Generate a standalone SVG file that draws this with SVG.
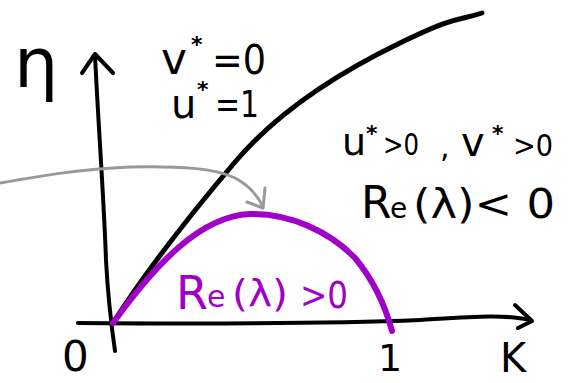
<svg xmlns="http://www.w3.org/2000/svg" width="577" height="383" viewBox="0 0 577 383">
<style>
.ink{fill:none;stroke:#000;stroke-width:4;stroke-linecap:round;stroke-linejoin:round}
.thick{stroke-width:5}
.pur{fill:none;stroke:#a100c8;stroke-width:6;stroke-linecap:round;stroke-linejoin:round}
.gray{fill:none;stroke:#999;stroke-width:3;stroke-linecap:round;stroke-linejoin:round}
text{font-family:"DejaVu Sans","Liberation Sans",sans-serif;fill:#000}
.ptxt{fill:#a100c8}
.star{font-size:22px;font-weight:bold}
</style>
<rect width="577" height="383" fill="#fff"/>
<g id="axes">
<path class="ink" d="M95,55 C98,120 104,200 106,260 C108,300 112,330 115,351"/>
<path class="ink" d="M82,73 L95,54 L113,73"/>
<path class="ink" d="M78,323 C200,324 320,324 420,320 C470,317 505,314 530,320"/>
<path class="ink" d="M515,305 L532,321 L518,328"/>
</g>
<g id="curves">
<path class="ink thick" d="M113,323 C150,265 190,215 235,162 S340,72 400,43 S455,22 482,13"/>
<path class="pur" d="M113,323 C155,265 200,216 250,214 C290,213 330,232 355,258 C375,282 385,305 392,331"/>
</g>
<g id="connectors">
<path class="gray" d="M0,183 C40,176 80,169 130,167 C180,166 215,168 235,178 C250,186 258,196 263,207"/>
<path class="gray" d="M247,202 L263,208 L265,188"/>
</g>
<g id="label-eta"><text x="14" y="88" font-size="70">η</text></g>
<g id="label-v0">
<text x="161" y="74" font-size="44">v</text>
<text class="star" x="191" y="52">*</text>
<text x="212" y="74" font-size="40" textLength="54" lengthAdjust="spacingAndGlyphs">=0</text>
</g>
<g id="label-u1">
<text x="171" y="118" font-size="40">u</text>
<text class="star" x="197" y="97">*</text>
<text x="215" y="117" font-size="38" textLength="44" lengthAdjust="spacingAndGlyphs">=1</text>
</g>
<g id="label-pos">
<text x="342" y="155" font-size="38">u</text>
<text class="star" x="366" y="141">*</text>
<text x="383" y="155" font-size="30" textLength="36" lengthAdjust="spacingAndGlyphs">&gt;0</text>
<text x="440" y="157" font-size="30">,</text>
<text x="461" y="156" font-size="40">v</text>
<text class="star" x="492" y="141">*</text>
<text x="513" y="156" font-size="30" textLength="40" lengthAdjust="spacingAndGlyphs">&gt;0</text>
</g>
<g id="label-neg">
<text x="361" y="218" font-size="44">R</text>
<text x="390" y="218" font-size="28">e</text>
<text x="413" y="218" font-size="40" textLength="142" lengthAdjust="spacingAndGlyphs">(λ)&lt; 0</text>
</g>
<g id="label-unstable">
<text class="ptxt" x="176" y="309" font-size="46">R</text>
<text class="ptxt" x="207" y="307" font-size="30">e</text>
<text class="ptxt" x="232" y="306" font-size="38" textLength="56" lengthAdjust="spacingAndGlyphs">(λ)</text>
<text class="ptxt" x="300" y="308" font-size="38" textLength="48" lengthAdjust="spacingAndGlyphs">&gt;0</text>
</g>
<g id="ticks">
<text x="62" y="371" font-size="42">0</text>
<text x="378" y="371" font-size="38">1</text>
<text x="500" y="372" font-size="40">K</text>
</g>
</svg>
